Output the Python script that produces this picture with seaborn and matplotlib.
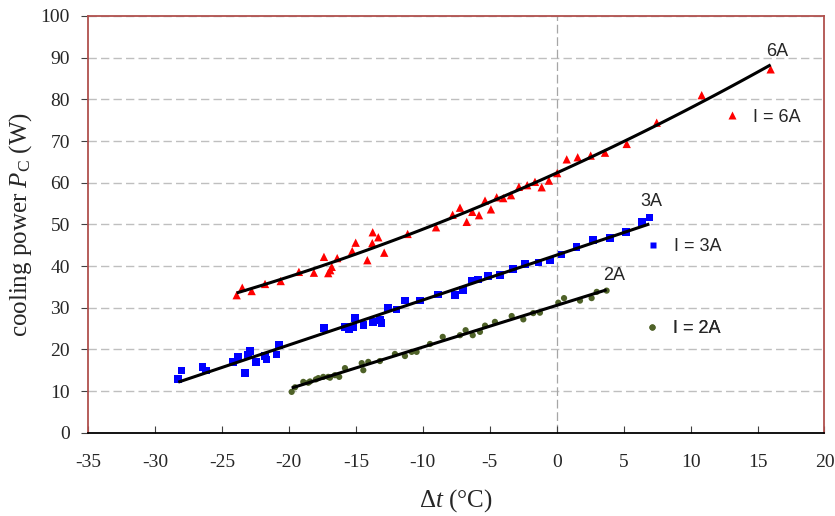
import pandas as pd
import numpy as np
import seaborn as sns
import matplotlib.pyplot as plt
from matplotlib.lines import Line2D

# measured points, I = 6A
dt_6a = [-23.90, -23.48, -22.78, -21.78, -20.61, -19.25, -18.13, -17.38, -17.06, -16.91,
         -16.80, -16.39, -15.27, -15.01, -14.14, -13.77, -13.74, -13.32, -12.88, -11.13,
         -9.01, -7.77, -7.22, -6.72, -6.30, -5.80, -5.35, -4.91, -4.48, -3.99,
         -3.41, -2.82, -2.20, -1.62, -1.12, -0.58, 0.04, 0.75, 1.57, 2.54,
         3.61, 5.23, 7.47, 10.83, 15.98]
pc_6a = [33.0, 34.8, 34.0, 35.7, 36.4, 38.6, 38.4, 42.2, 38.3, 39.0,
         39.8, 41.9, 43.6, 45.6, 41.4, 45.5, 48.1, 46.9, 43.2, 47.7,
         49.3, 52.3, 54.0, 50.6, 53.0, 52.2, 55.7, 53.6, 56.5, 56.3,
         57.0, 59.0, 59.4, 60.2, 58.9, 60.5, 62.3, 65.6, 66.1, 66.5,
         67.2, 69.3, 74.4, 81.0, 87.2]

# measured points, I = 3A
dt_3a = [-28.26, -28.01, -26.44, -26.21, -24.15, -23.78, -23.28, -23.03, -22.88, -22.46,
         -21.78, -21.66, -20.91, -20.74, -17.36, -15.81, -15.51, -15.19, -15.06, -14.44,
         -13.70, -13.20, -13.07, -12.58, -11.95, -11.33, -10.21, -8.84, -7.60, -6.98,
         -6.35, -5.86, -5.11, -4.23, -3.24, -2.37, -1.37, -0.50, 0.37, 1.49,
         2.73, 3.98, 5.18, 6.35, 6.92]
pc_3a = [12.9, 14.9, 15.7, 14.9, 17.0, 18.1, 14.4, 18.6, 19.6, 17.0,
         18.4, 17.6, 18.8, 21.0, 25.1, 25.4, 24.9, 25.4, 27.5, 25.8,
         26.6, 27.0, 26.3, 29.9, 29.6, 31.7, 31.7, 33.2, 33.0, 34.2,
         36.5, 36.8, 37.6, 37.8, 39.3, 40.5, 40.8, 41.3, 42.8, 44.5,
         46.2, 46.7, 48.1, 50.6, 51.6]

# measured points, I = 2A
dt_2a = [-19.79, -19.54, -18.92, -18.55, -18.42, -17.98, -17.80, -17.43, -17.06, -16.93,
         -16.56, -16.24, -15.81, -14.56, -14.44, -14.07, -13.20, -12.08, -11.33, -10.83,
         -10.46, -9.46, -8.51, -7.22, -6.80, -6.27, -5.73, -5.35, -4.61, -3.36,
         -2.49, -1.75, -1.25, 0.12, 0.55, 1.74, 2.61, 2.99, 3.73]
pc_2a = [9.8, 10.9, 12.2, 12.0, 12.3, 12.8, 13.1, 13.4, 13.4, 13.2,
         13.8, 13.4, 15.5, 16.7, 15.0, 17.0, 17.2, 18.9, 18.4, 19.4,
         19.4, 21.3, 23.0, 23.4, 24.6, 23.4, 24.2, 25.7, 26.6, 28.0,
         27.2, 28.7, 28.8, 31.2, 32.3, 31.7, 32.3, 33.8, 34.1]

x_ticks = [-35, -30, -25, -20, -15, -10, -5, 0, 5, 10, 15, 20]
y_ticks = [0, 10, 20, 30, 40, 50, 60, 70, 80, 90, 100]

sns.set_theme(style='white')
plt.rcParams['font.family'] = ['Liberation Serif', 'DejaVu Serif']
plt.rcParams['mathtext.fontset'] = 'custom'
plt.rcParams['mathtext.rm'] = 'Liberation Serif'
plt.rcParams['mathtext.it'] = 'Liberation Serif:italic'
plt.rcParams['axes.unicode_minus'] = False

fig = plt.figure(figsize=(8.35, 5.16), dpi=100)
ax = fig.add_axes([0.1054, 0.1614, 0.8820, 0.8076])

# grid + zero line
for v in y_ticks[1:]:
    ax.axhline(v, color='#BFBFBF', lw=1.0, ls=(0, (6, 3)), zorder=0)
ax.axvline(0, color='#A6A6A6', lw=0.9, ls=(0, (7, 3)), zorder=0)

# points
sns.scatterplot(x=dt_6a, y=pc_6a, marker='^', color='red', s=36, edgecolor='none', ax=ax, zorder=2)
sns.scatterplot(x=dt_3a, y=pc_3a, marker='s', color='blue', s=30, edgecolor='none', ax=ax, zorder=2)
sns.scatterplot(x=dt_2a, y=pc_2a, marker='o', color='#4F6228', s=20, edgecolor='none', ax=ax, zorder=2)

# trend lines
lk = {'lw': 2.2, 'zorder': 3, 'solid_capstyle': 'butt'}
sns.regplot(x=dt_6a, y=pc_6a, order=2, scatter=False, ci=None, color='black', line_kws=lk, ax=ax)
sns.regplot(x=dt_3a, y=pc_3a, scatter=False, ci=None, color='black', line_kws=lk, ax=ax)
sns.regplot(x=dt_2a, y=pc_2a, scatter=False, ci=None, color='black', line_kws=lk, ax=ax)

sans = ['Liberation Sans', 'DejaVu Sans']
ax.text(16.45, 91.6, '6A', family=sans, fontsize=13, color='#262626', ha='center', va='center')
ax.text(7.04, 55.5, '3A', family=sans, fontsize=13, color='#262626', ha='center', va='center')
ax.text(4.28, 37.8, '2A', family=sans, fontsize=13, color='#262626', ha='center', va='center')

# legends (three separate entries like the original)
entries = [
    (Line2D([], [], ls='', marker='^', color='red', markersize=5.5, mec='none'), 'I = 6A', (0.8618, 0.757)),
    (Line2D([], [], ls='', marker='s', color='blue', markersize=5, mec='none'), 'I = 3A', (0.7554, 0.4464)),
    (Line2D([], [], ls='', marker='o', color='#4F6228', markersize=4.5, mec='none'), 'I = 2A', (0.7540, 0.2505)),
]
for h, lab, pos in entries:
    leg = ax.legend([h], [lab], loc='center left', bbox_to_anchor=pos, frameon=False,
                    borderpad=0, borderaxespad=0, handlelength=1.0, handletextpad=0.66,
                    prop={'family': sans, 'size': 13}, labelcolor='#262626')
    ax.add_artist(leg)

ax.set_xlim(-35, 20)
ax.set_ylim(0, 100)
ax.set_xticks(x_ticks)
ax.set_yticks(y_ticks)
ax.tick_params(axis='x', direction='in', length=5, width=0.8, color='#404040', pad=15,
               labelsize=14, labelcolor='#262626', bottom=True)
ax.tick_params(axis='y', direction='out', length=5, width=0.8, color='#404040', pad=8,
               labelsize=14, labelcolor='#262626', left=True)

for s in ['left', 'top', 'right']:
    ax.spines[s].set_color('#B0504D')
    ax.spines[s].set_linewidth(1.3)
ax.spines['bottom'].set_color('black')
ax.spines['bottom'].set_linewidth(1.3)

ax.set_xlabel(r'$\Delta t$ (°C)', fontsize=18, labelpad=12)
ax.set_ylabel(r'cooling power $P_{\mathrm{C}}$ (W)', fontsize=18, labelpad=5)

fig.savefig('out.png', dpi=100)
